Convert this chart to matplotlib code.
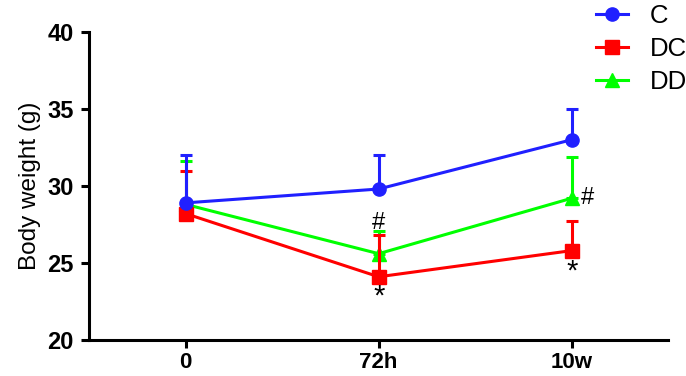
import matplotlib
matplotlib.use("Agg")
import matplotlib.pyplot as plt
import numpy as np

categories = ["0", "72h", "10w"]
C_mean = [28.9, 29.8, 33.0]
C_err = [3.1, 2.2, 2.0]
DC_mean = [28.2, 24.1, 25.8]
DC_err = [2.8, 2.7, 1.9]
DD_mean = [28.8, 25.6, 29.2]
DD_err = [2.8, 1.5, 2.7]

plt.rcParams['font.family'] = ['Liberation Sans', 'DejaVu Sans']
fig = plt.figure(figsize=(6.86, 3.76), dpi=100)
ax = fig.add_axes([0.130, 0.096, 0.844, 0.819])
x = np.arange(len(categories))

series = {"C": (C_mean, C_err, "#2020ff", "o", 5),
          "DC": (DC_mean, DC_err, "#ff0000", "s", 4),
          "DD": (DD_mean, DD_err, "#00ff00", "^", 3)}
handles = []
for name in ["C", "DC", "DD"]:
    m, e, col, mk, z = series[name]
    ax.errorbar(x, m, yerr=[np.zeros(len(e)), e], color=col, lw=2.2, capsize=4.5,
                capthick=2.2, elinewidth=2.2, marker=mk, ms=9.5, zorder=z)
    h, = ax.plot([], [], color=col, lw=2.2, marker=mk, ms=9.5, label=name)
    handles.append(h)

# annotations
ax.text(x[1], DD_mean[1] + DD_err[1] - 0.2, "#", ha="center", va="bottom", fontsize=17, zorder=6)
ax.text(x[1], DC_mean[1] - 0.35, "*", ha="center", va="top", fontsize=21, zorder=6)
ax.text(x[2] + 0.05, DD_mean[2], "#", ha="left", va="center", fontsize=17)
ax.text(x[2], DC_mean[2] - 0.45, "*", ha="center", va="top", fontsize=21)

ax.set_xlim(-0.5, 2.5)
ax.set_ylim(20, 40)
ax.set_yticks([20, 25, 30, 35, 40])
ax.set_xticks(x)
ax.set_xticklabels(categories)
for s in ["top", "right"]:
    ax.spines[s].set_visible(False)
for s in ["left", "bottom"]:
    ax.spines[s].set_linewidth(2.2)
ax.tick_params(axis="y", width=2.2, length=6, labelsize=17, pad=5)
ax.tick_params(axis="x", width=2.2, length=6, labelsize=16, pad=3)
for lab in ax.get_xticklabels() + ax.get_yticklabels():
    lab.set_fontweight("bold")
ax.set_ylabel("Body weight (g)", fontsize=17.5, labelpad=5)

fig.legend(handles=handles, loc="upper right", bbox_to_anchor=(1.035, 1.052),
           frameon=False, fontsize=18.5, handlelength=1.25, labelspacing=0.36,
           handletextpad=0.85)

fig.savefig("out.png", dpi=100)
